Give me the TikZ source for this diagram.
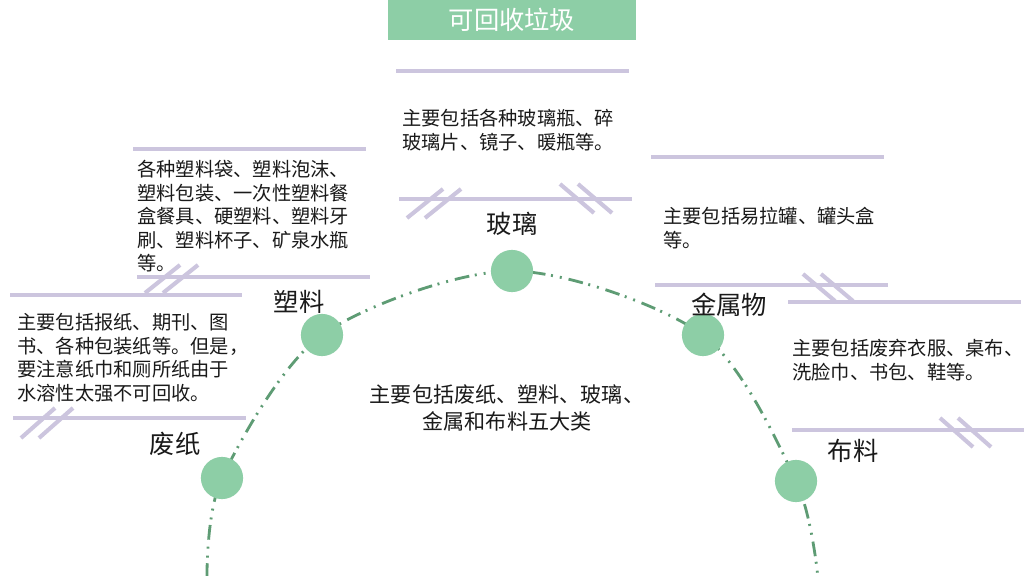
\documentclass[tikz,border=0pt]{standalone}
\usepackage{fontspec}
\setmainfont{Noto Sans CJK SC}
\usepackage{tikz}
\usetikzlibrary{calc}
\definecolor{mint}{HTML}{8DCEA6}
\definecolor{pine}{HTML}{5E9C74}
\definecolor{lilac}{HTML}{CCC5DE}
\definecolor{ink}{HTML}{1A1A1A}
\tikzset{
  bar/.style={draw=lilac, line width=2.9pt},
  hatch/.style={draw=lilac, line width=2.9pt},
  trail/.style={draw=pine, line width=2pt,
    dash pattern=on 10.5pt off 4pt on 1.4pt off 5pt on 1.4pt off 5pt},
  stop/.style={circle, fill=mint, minimum size=30pt, inner sep=0pt},
  head/.style={fill=mint, minimum width=176pt, minimum height=28.4pt, inner sep=0pt,
    text=white, font=\fontsize{18}{20}\selectfont},
  lab/.style={text=ink, font=\fontsize{18}{20}\selectfont},
  body/.style={text=ink, align=left, anchor=north west, inner sep=0pt,
    font=\fontsize{13.7}{16.7}\selectfont},
  mid/.style={text=ink, align=center, inner sep=0pt,
    font=\fontsize{15}{19}\selectfont},
}
\begin{document}
\begin{tikzpicture}[x=0.025cm, y=-0.025cm]
  \useasboundingbox[fill=white] (0,0) rectangle (1024,576);
  % title
  \node[head] (title) at (512,20) {可回收垃圾};
  % lilac bars above and below each text block
  \foreach \ax/\ay/\bx in {396/71/629, 399/199/632, 133/149/366, 137/277/370,
      10/295/242, 13/418/246, 651/157/884, 655/285/888, 788/302/1021, 792/430/1024}
    \draw[bar] (\ax,\ay) -- (\bx,\ay);
  % double strokes crossing the bars
  \foreach \hx/\hy/\dx/\dy in {145/293/35/-28, 21/438/34/-30, 407/218/36/-29,
      560/184/34/29, 803/274/32/27, 940/418/33/29}
    \foreach \o in {0,18}
      \draw[hatch] (\hx+\o,\hy) -- ++(\dx,\dy);
  % the arc
  \coordinate (endL) at (207,578);
  \coordinate (endR) at (818,578);
  \coordinate (fz) at (222,478);
  \coordinate (sl) at (322,335);
  \coordinate (bl) at (512,271);
  \coordinate (js) at (703,335);
  \coordinate (bu) at (796,481);
  \draw[trail] plot[smooth] coordinates {(endL) (fz) (sl) (bl) (js) (bu) (endR)};
  \foreach \c in {fz,sl,bl,js,bu}
    \node[stop] (\c-dot) at (\c) {};
  % names
  \node[lab] (fz-lab) at (175,444) {废纸};
  \node[lab] (sl-lab) at (299,302) {塑料};
  \node[lab] (bl-lab) at (512,224) {玻璃};
  \node[lab] (js-lab) at (729,305) {金属物};
  \node[lab] (bu-lab) at (853,451) {布料};
  % texts
  \node[body] (sl-txt) at (137,160) {各种塑料袋、塑料泡沫、\\塑料包装、一次性塑料餐\\盒餐具、硬塑料、塑料牙\\刷、塑料杯子、矿泉水瓶\\等。};
  \node[body] (fz-txt) at (17,313) {主要包括报纸、期刊、图\\书、各种包装纸等。但是，\\要注意纸巾和厕所纸由于\\水溶性太强不可回收。};
  \node[body] (bl-txt) at (402,109) {主要包括各种玻璃瓶、碎\\玻璃片、镜子、暖瓶等。};
  \node[body] (js-txt) at (663,207) {主要包括易拉罐、罐头盒\\等。};
  \node[body] (bu-txt) at (792,339) {主要包括废弃衣服、桌布、\\洗脸巾、书包、鞋等。};
  \node[mid] (all) at (507,408) {主要包括废纸、塑料、玻璃、\\金属和布料五大类};
\end{tikzpicture}
\end{document}
